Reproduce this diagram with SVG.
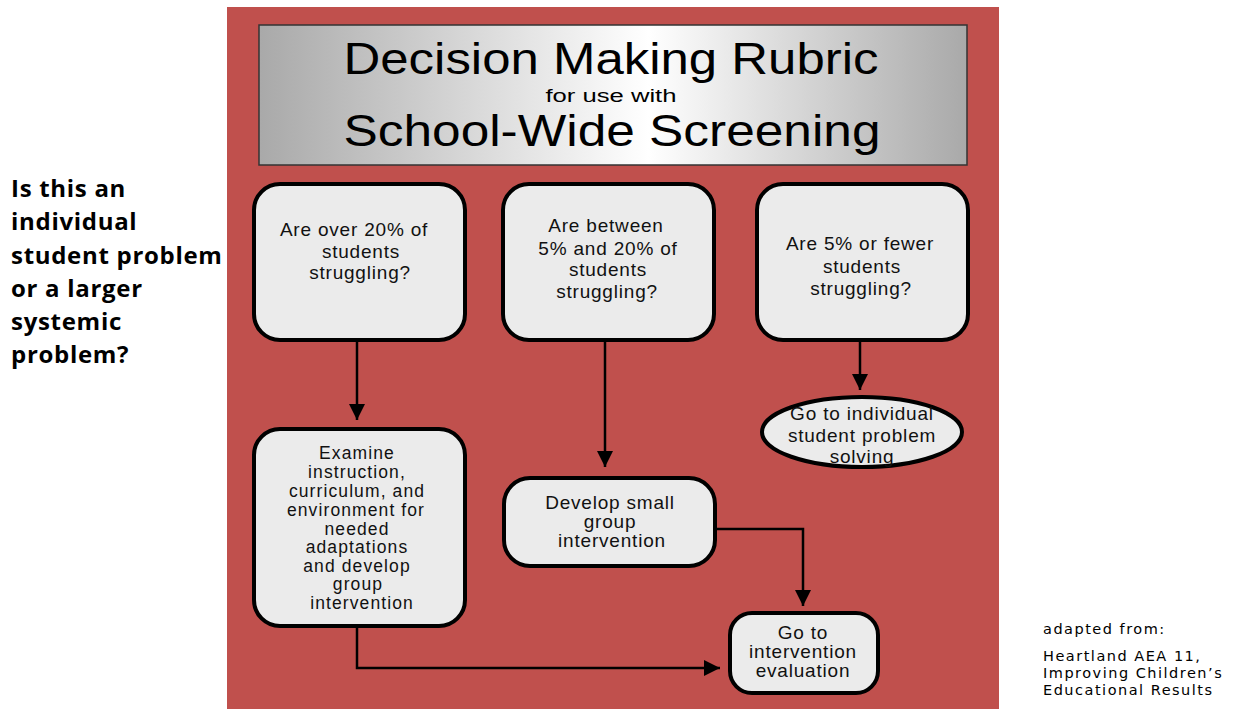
<svg xmlns="http://www.w3.org/2000/svg" width="1236" height="709" viewBox="0 0 1236 709">
<defs>
<linearGradient id="tg" x1="0" y1="0" x2="1" y2="0">
<stop offset="0" stop-color="#a9a9a9"/>
<stop offset="0.55" stop-color="#ffffff"/>
<stop offset="1" stop-color="#a9a9a9"/>
</linearGradient>
<marker id="ah" viewBox="0 0 10 10" refX="10" refY="5" markerWidth="16" markerHeight="16" markerUnits="userSpaceOnUse" orient="auto">
<path d="M0,0 L10,5 L0,10 z" fill="#000"/>
</marker>
</defs>
<style>
.box{fill:#ebebeb;stroke:#000;stroke-width:4}
.t{font-family:"Liberation Sans",Arial,sans-serif;font-size:19px;letter-spacing:0.8px;fill:#111;text-anchor:middle}
.s{font-size:17.5px;letter-spacing:1.1px}
.ttl{font-family:"Liberation Sans",Arial,sans-serif;fill:#000;text-anchor:middle}
.conn{fill:none;stroke:#000;stroke-width:2.5}
.side{font-family:"Open Sans",sans-serif;font-weight:bold;font-size:24px;letter-spacing:0.7px;fill:#000}
.foot{font-family:"DejaVu Sans",sans-serif;font-size:14.5px;fill:#000;letter-spacing:1.5px}
</style>
<rect width="1236" height="709" fill="#ffffff"/>
<rect x="227" y="7" width="772" height="702" fill="#c0504d"/>
<g id="title">
<rect x="259" y="25" width="708" height="140" fill="url(#tg)" stroke="#333" stroke-width="1.5"/>
<text class="ttl" x="611" y="74" font-size="44" textLength="535" lengthAdjust="spacingAndGlyphs">Decision Making Rubric</text>
<text class="ttl" x="611" y="102" font-size="18" textLength="131" lengthAdjust="spacingAndGlyphs">for use with</text>
<text class="ttl" x="612" y="146" font-size="44" textLength="537" lengthAdjust="spacingAndGlyphs">School-Wide Screening</text>
</g>
<g id="connectors">
<path class="conn" d="M357,340 L357,420" marker-end="url(#ah)"/>
<path class="conn" d="M605,340 L605,467" marker-end="url(#ah)"/>
<path class="conn" d="M860,340 L860,390" marker-end="url(#ah)"/>
<path class="conn" d="M357,626 L357,668 L720,668" marker-end="url(#ah)"/>
<path class="conn" d="M715,529 L803,529 L803,606" marker-end="url(#ah)"/>
</g>
<g id="q1">
<rect class="box" x="254" y="184" width="211" height="156" rx="26"/>
<text class="t" x="354" y="236">Are over 20% of</text>
<text class="t" x="361" y="258">students</text>
<text class="t" x="360" y="279">struggling?</text>
</g>
<g id="q2">
<rect class="box" x="503" y="184" width="211" height="156" rx="26"/>
<text class="t" x="606" y="232">Are between</text>
<text class="t" x="608" y="255">5% and 20% of</text>
<text class="t" x="608" y="276">students</text>
<text class="t" x="607" y="298">struggling?</text>
</g>
<g id="q3">
<rect class="box" x="757" y="184" width="211" height="156" rx="26"/>
<text class="t" x="860" y="250">Are 5% or fewer</text>
<text class="t" x="862" y="273">students</text>
<text class="t" x="861" y="295">struggling?</text>
</g>
<g id="individual">
<ellipse class="box" cx="862" cy="432" rx="100" ry="35"/>
<text class="t" x="862" y="420">Go to individual</text>
<text class="t" x="862" y="442">student problem</text>
<text class="t" x="862" y="463">solving</text>
</g>
<g id="examine">
<rect class="box" x="254" y="429" width="211" height="197" rx="26"/>
<text class="t s" x="357" y="459">Examine</text>
<text class="t s" x="357" y="478">instruction,</text>
<text class="t s" x="357" y="497">curriculum, and</text>
<text class="t s" x="356" y="516">environment for</text>
<text class="t s" x="357" y="535">needed</text>
<text class="t s" x="357" y="553">adaptations</text>
<text class="t s" x="357" y="572">and develop</text>
<text class="t s" x="358" y="590">group</text>
<text class="t s" x="362" y="609">intervention</text>
</g>
<g id="smallgroup">
<rect class="box" x="504" y="478" width="211" height="88" rx="26"/>
<text class="t" x="610" y="509">Develop small</text>
<text class="t" x="610" y="528">group</text>
<text class="t" x="612" y="547">intervention</text>
</g>
<g id="evaluation">
<rect class="box" x="730" y="613" width="148" height="80" rx="22"/>
<text class="t" x="803" y="639">Go to</text>
<text class="t" x="803" y="658">intervention</text>
<text class="t" x="803" y="677">evaluation</text>
</g>
<g id="question">
<text class="side" x="11" y="197">Is this an</text>
<text class="side" x="11" y="230">individual</text>
<text class="side" x="11" y="264">student problem</text>
<text class="side" x="11" y="297">or a larger</text>
<text class="side" x="11" y="330">systemic</text>
<text class="side" x="11" y="363">problem?</text>
</g>
<g id="credit">
<text class="foot" x="1043" y="634">adapted from:</text>
<text class="foot" x="1043" y="661">Heartland AEA 11,</text>
<text class="foot" x="1043" y="678">Improving Children’s</text>
<text class="foot" x="1043" y="695">Educational Results</text>
</g>
</svg>
